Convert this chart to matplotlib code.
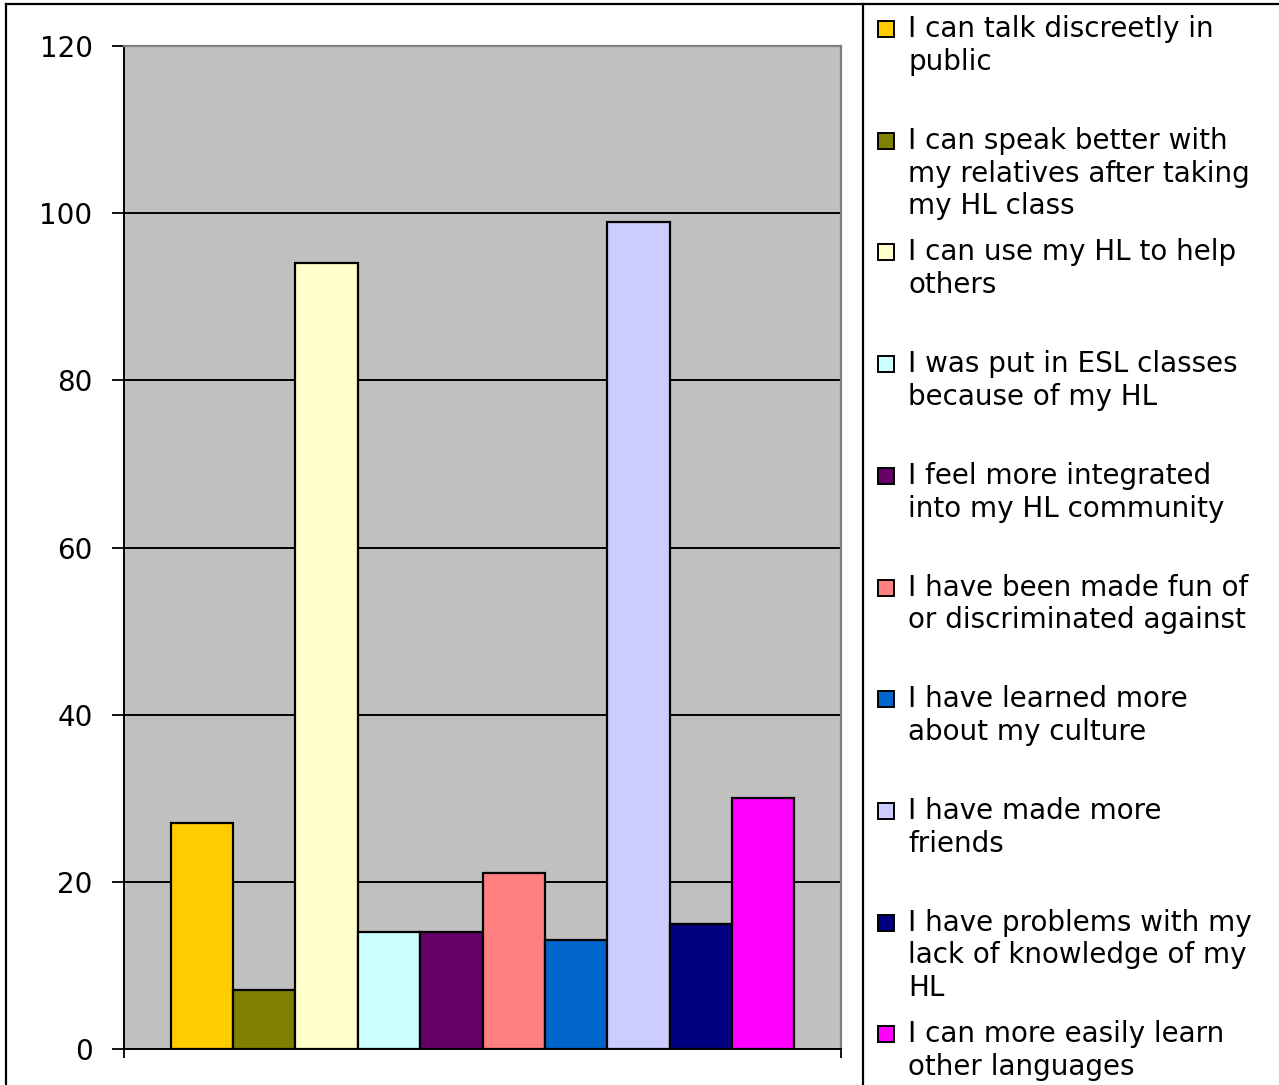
import matplotlib

matplotlib.use("Agg")
import matplotlib.pyplot as plt
from matplotlib.patches import Rectangle
from matplotlib.lines import Line2D

# Survey responses (percent of respondents)
labels = [
    "I can talk discreetly in\npublic",
    "I can speak better with\nmy relatives after taking\nmy HL class",
    "I can use my HL to help\nothers",
    "I was put in ESL classes\nbecause of my HL",
    "I feel more integrated\ninto my HL community",
    "I have been made fun of\nor discriminated against",
    "I have learned more\nabout my culture",
    "I have made more\nfriends",
    "I have problems with my\nlack of knowledge of my\nHL",
    "I can more easily learn\nother languages",
]
values = [27, 7, 94, 14, 14, 21, 13, 99, 15, 30]
colors = [
    "#FFCC00", "#808000", "#FFFFCC", "#CCFFFF", "#660066",
    "#FF8080", "#0066CC", "#CCCCFF", "#000080", "#FF00FF",
]
y_ticks = [0, 20, 40, 60, 80, 100, 120]

W, H = 1279, 1085
FS = 20
plt.rcParams.update({
    "font.family": ["DejaVu Sans"],
    "font.size": FS,
})

fig = plt.figure(figsize=(W / 100, H / 100), dpi=100)
fig.patch.set_facecolor("white")

ax = fig.add_axes([124 / W, 1 - 1049 / H, (841 - 124) / W, (1049 - 46) / H])
ax.set_facecolor("#C0C0C0")

n = len(values)
group = 0.87
bw = group / n
start = (1 - group) / 2
xs = [start + bw * (i + 0.5) for i in range(n)]
ax.bar(xs, values, width=bw, color=colors, edgecolor="black",
       linewidth=1.6, zorder=3)

ax.set_xlim(0, 1)
ax.set_ylim(0, 120)
ax.set_yticks(y_ticks)
ax.set_xticks([0, 1])
ax.set_xticklabels(["", ""])
ax.grid(axis="y", color="black", linewidth=1.4, zorder=1)
ax.set_axisbelow(True)

for side in ("top", "right"):
    ax.spines[side].set_color("#808080")
    ax.spines[side].set_linewidth(1.6)
for side in ("left", "bottom"):
    ax.spines[side].set_color("black")
    ax.spines[side].set_linewidth(1.4)
ax.tick_params(axis="y", direction="out", length=8.6, width=1.3, pad=14,
               labelsize=FS)
ax.tick_params(axis="x", direction="out", length=6.5, width=1.3)

# Legend drawn as a column of swatches and wrapped labels
step = 111.7
for i, (lab, col) in enumerate(zip(labels, colors)):
    base = 37 + step * i
    fig.patches.append(Rectangle(
        (878 / W, 1 - base / H), 16 / W, 16 / H,
        transform=fig.transFigure, facecolor=col, edgecolor="black",
        linewidth=1.4))
    fig.text(908 / W, 1 - (base - 22) / H, lab, ha="left", va="top",
             fontsize=FS, linespacing=1.22, color="black")

# Outer frame and divider between plot and legend
frame = dict(transform=fig.transFigure, color="black", linewidth=1.6)
fig.lines.append(Line2D([6 / W, 6 / W], [0, 1 - 4 / H], **frame))
fig.lines.append(Line2D([6 / W, 1], [1 - 4 / H, 1 - 4 / H], **frame))
fig.lines.append(Line2D([863 / W, 863 / W], [0, 1 - 4 / H], **frame))

fig.savefig("out.png", dpi=100)
